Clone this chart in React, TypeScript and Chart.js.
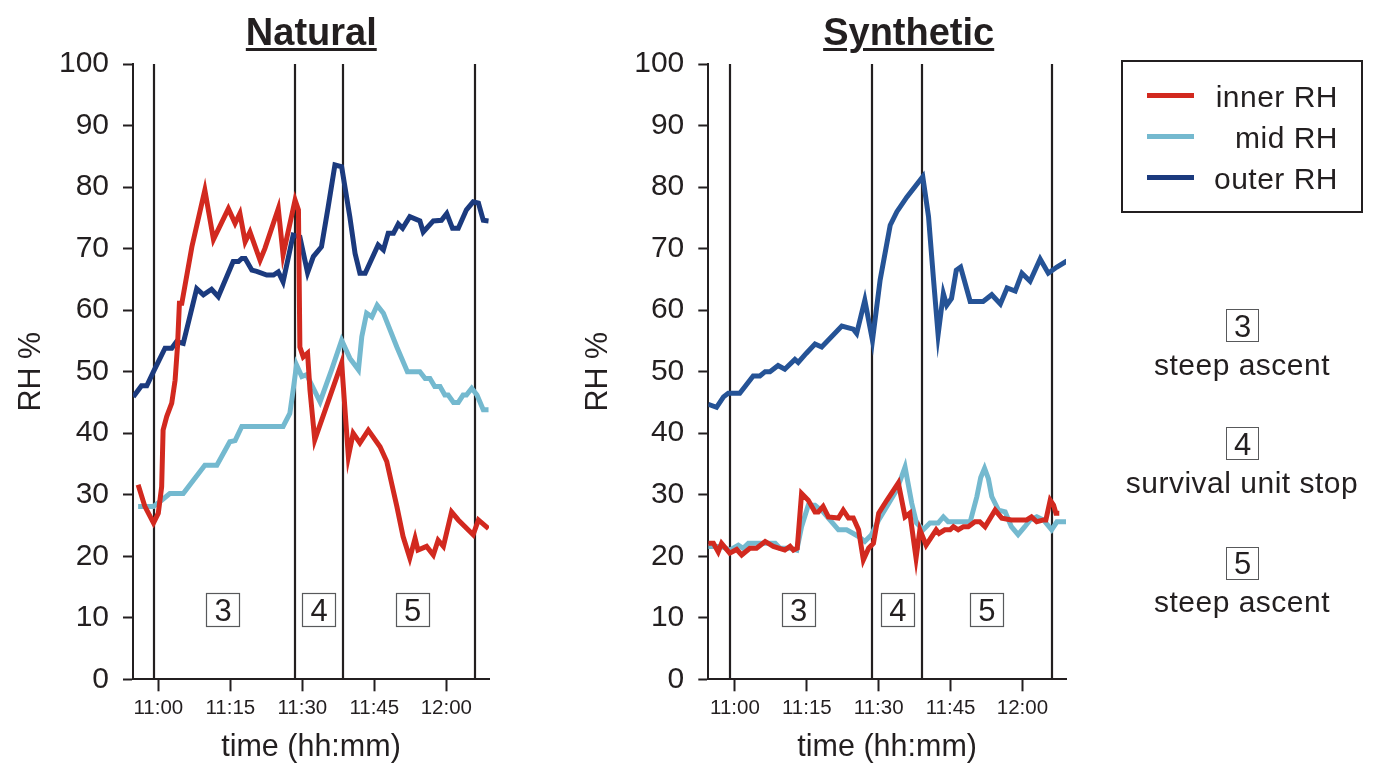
import React, { useEffect, useRef } from "react";
import { Chart, registerables } from "chart.js";

Chart.register(...registerables);

const FONT = "'Liberation Sans', Arial, Helvetica, sans-serif";
const INK = "#231f20";
const RED = "#d2291f";
const LIGHT = "#74b9cf";
const NAVY = "#1b3a7e";
const BLUE = "#255396";

// x axis: minutes after 11:00
const tickMinutes = [0, 15, 30, 45, 60];
const tickLabels = ["11:00", "11:15", "11:30", "11:45", "12:00"];
const seriesNames = ["inner RH", "mid RH", "outer RH"];
const phaseLabels = ["3", "4", "5"];
const phaseDescriptions = ["steep ascent", "survival unit stop", "steep ascent"];
const phaseLabelLevel = 11.3;

// ---- Natural ----
const natBoundaries = [-0.96, 28.5, 38.5, 66.0];
const natPhaseMid = [13.4, 33.4, 52.9];

const natInnerT = [-4.2, -2.8, -1.0, 0.0, 0.7, 1.0, 1.75, 2.8, 3.5, 4.0, 4.4, 4.9, 7.0, 9.7, 11.5, 14.6, 16.0, 17.0, 18.1, 19.1, 21.2, 22.2, 25.0, 26.0, 28.5, 29.2, 29.5, 30.2, 31.1, 31.6, 32.6, 38.2, 39.6, 40.6, 42.0, 43.75, 46.2, 47.6, 48.6, 49.7, 51.0, 52.4, 53.5, 54.1, 55.9, 57.3, 58.3, 59.4, 61.1, 62.5, 65.6, 66.7, 68.8];
const natInnerV = [31.6, 28.1, 25.4, 27.0, 31.3, 40.5, 42.7, 44.9, 48.6, 54.1, 61.1, 61.1, 70.3, 79.5, 71.5, 76.5, 74.1, 75.7, 71.1, 72.7, 68.1, 70.0, 76.5, 69.0, 77.9, 76.3, 54.0, 52.4, 53.0, 47.0, 38.9, 51.4, 36.2, 40.0, 38.4, 40.5, 37.8, 35.4, 31.9, 28.1, 23.2, 19.7, 22.9, 21.0, 21.6, 20.2, 22.6, 21.6, 27.2, 25.9, 23.5, 25.9, 24.5];

const natMidT = [-4.2, -1.0, 0.7, 2.4, 5.2, 9.7, 12.2, 14.9, 16.0, 17.4, 26.0, 27.4, 28.1, 28.8, 29.9, 30.9, 33.7, 36.1, 38.2, 39.9, 41.7, 42.4, 43.4, 44.5, 45.6, 46.9, 49.7, 51.9, 54.5, 55.6, 56.6, 57.6, 58.7, 59.7, 60.4, 61.5, 62.5, 63.5, 64.2, 65.3, 66.4, 67.7, 68.8];
const natMidV = [28.1, 28.1, 29.1, 30.2, 30.2, 34.8, 34.8, 38.6, 38.8, 41.1, 41.1, 43.2, 47.0, 51.1, 49.2, 49.5, 45.1, 50.3, 55.1, 52.2, 50.3, 55.7, 59.5, 58.9, 60.8, 59.5, 54.0, 50.0, 50.0, 48.9, 48.9, 47.6, 47.6, 46.2, 46.2, 45.0, 45.0, 46.2, 46.2, 47.3, 46.2, 43.8, 43.8];

const natOuterT = [-5.2, -3.5, -2.4, -1.0, 1.4, 2.8, 3.8, 5.2, 8.0, 9.4, 11.1, 12.5, 15.6, 16.7, 17.4, 18.1, 19.5, 20.5, 22.6, 24.0, 25.0, 26.0, 28.1, 29.5, 31.1, 32.3, 34.0, 35.4, 36.8, 38.2, 39.9, 41.0, 42.0, 43.1, 45.8, 46.9, 47.9, 49.0, 50.0, 50.9, 52.4, 54.5, 55.2, 57.3, 59.0, 60.1, 61.3, 62.5, 64.2, 65.6, 66.7, 67.7, 68.8];
const natOuterV = [45.9, 47.7, 47.7, 50.0, 53.8, 53.8, 54.9, 54.6, 63.5, 62.5, 63.4, 62.2, 67.9, 67.9, 68.4, 68.4, 66.5, 66.3, 65.7, 65.7, 66.2, 64.6, 72.2, 71.9, 66.1, 68.7, 70.3, 76.8, 83.6, 83.3, 75.2, 69.2, 66.0, 66.0, 70.6, 69.8, 72.5, 72.5, 74.0, 73.3, 75.2, 74.5, 72.7, 74.5, 74.6, 75.7, 73.3, 73.3, 76.3, 77.6, 77.4, 74.6, 74.5];

// ---- Synthetic ----
const synBoundaries = [-1.04, 28.7, 38.97, 66.2];
const synPhaseMid = [13.2, 33.9, 52.5];

const synInnerT = [-5.6, -4.5, -3.5, -2.8, -1.1, 0.35, 1.4, 3.1, 4.5, 6.3, 8.0, 10.4, 11.5, 12.2, 13.0, 13.9, 15.3, 16.7, 17.4, 18.4, 19.5, 21.6, 22.6, 23.7, 24.7, 25.8, 26.8, 27.9, 28.9, 30.0, 31.7, 34.1, 35.5, 36.5, 37.8, 38.6, 39.9, 42.0, 42.6, 43.8, 44.9, 45.6, 46.6, 47.7, 48.7, 50.1, 51.1, 52.2, 54.3, 55.7, 57.7, 60.9, 61.9, 63.0, 64.4, 64.9, 65.8, 66.5, 67.0, 67.7];
const synInnerV = [22.1, 22.1, 20.7, 22.1, 20.5, 21.1, 20.2, 21.3, 21.3, 22.4, 21.6, 21.0, 21.6, 21.0, 21.3, 30.2, 29.1, 27.2, 27.2, 28.1, 26.4, 26.2, 27.5, 26.2, 26.2, 24.3, 19.4, 21.3, 22.1, 27.0, 29.1, 31.9, 26.4, 27.0, 19.7, 24.3, 21.8, 24.3, 23.7, 24.3, 24.3, 24.8, 24.3, 24.8, 24.8, 25.6, 25.6, 24.8, 27.5, 26.2, 25.9, 25.9, 26.4, 25.6, 25.9, 25.9, 29.1, 28.3, 27.0, 27.0];

const synMidT = [-5.6, -2.8, -1.1, 0.7, 1.7, 2.8, 8.4, 9.4, 11.5, 12.9, 13.9, 15.3, 16.7, 18.4, 19.5, 21.6, 23.3, 24.7, 25.8, 27.1, 28.5, 30.0, 31.7, 33.8, 35.5, 36.9, 37.9, 39.3, 40.7, 42.4, 43.5, 44.5, 49.1, 50.5, 51.3, 52.1, 52.9, 53.6, 55.0, 56.4, 57.7, 59.1, 60.5, 61.6, 63.0, 64.4, 66.1, 67.2, 69.3];
const synMidV = [21.6, 21.6, 21.0, 21.8, 21.3, 22.1, 22.1, 21.3, 21.3, 21.0, 24.8, 28.3, 28.3, 27.2, 26.2, 24.3, 24.3, 23.7, 23.2, 22.4, 23.5, 25.9, 28.1, 30.8, 34.5, 28.6, 25.4, 24.3, 25.4, 25.4, 26.4, 25.6, 25.6, 29.7, 32.8, 34.3, 32.6, 29.7, 27.5, 27.2, 24.8, 23.5, 24.8, 25.9, 26.4, 25.9, 24.3, 25.6, 25.6];

const synOuterT = [-5.6, -3.85, -2.4, -1.4, 1.0, 3.8, 5.2, 6.3, 7.3, 9.0, 10.4, 12.5, 13.2, 14.9, 16.7, 18.1, 22.3, 24.7, 25.4, 27.1, 28.7, 30.3, 32.4, 33.8, 35.9, 39.2, 40.4, 41.4, 42.4, 43.5, 44.2, 45.2, 46.2, 47.1, 49.1, 51.8, 53.6, 55.4, 56.8, 58.5, 59.9, 61.6, 63.7, 65.4, 67.2, 69.3];
const synOuterV = [44.7, 44.2, 45.9, 46.5, 46.5, 49.3, 49.3, 50.0, 50.0, 51.0, 50.4, 52.0, 51.5, 53.0, 54.5, 54.0, 57.4, 56.9, 56.2, 61.6, 55.1, 64.9, 73.8, 76.0, 78.4, 81.7, 75.2, 65.4, 56.0, 62.7, 60.8, 61.9, 66.5, 67.0, 61.4, 61.4, 62.5, 61.0, 63.6, 63.1, 66.0, 64.7, 68.3, 66.0, 67.0, 68.0];

const pts = (t: number[], v: number[]) => t.map((x, i) => ({ x, y: v[i] }));

interface PanelProps {
  left: number;
  width: number;
  yWidth: number;
  rightPad: number;
  xMin: number;
  xMax: number;
  boundaries: number[];
  mids: number[];
  inner: { x: number; y: number }[];
  mid: { x: number; y: number }[];
  outer: { x: number; y: number }[];
  outerColor: string;
}

function Panel(p: PanelProps) {
  const ref = useRef<HTMLCanvasElement | null>(null);
  useEffect(() => {
    if (!ref.current) return;
    const phasePlugin = {
      id: "phases",
      beforeDatasetsDraw(chart: any) {
        const { ctx, chartArea, scales } = chart;
        ctx.save();
        ctx.strokeStyle = INK;
        ctx.lineWidth = 2.2;
        p.boundaries.forEach((t) => {
          const x = Math.round(scales.x.getPixelForValue(t));
          ctx.beginPath();
          ctx.moveTo(x, chartArea.top);
          ctx.lineTo(x, chartArea.bottom);
          ctx.stroke();
        });
        ctx.restore();
      },
      afterDatasetsDraw(chart: any) {
        const { ctx, scales } = chart;
        ctx.save();
        const size = 33;
        p.mids.forEach((t, i) => {
          const cx = scales.x.getPixelForValue(t);
          const cy = scales.y.getPixelForValue(phaseLabelLevel);
          ctx.fillStyle = "#ffffff";
          ctx.fillRect(cx - size / 2, cy - size / 2, size, size);
          ctx.strokeStyle = "#58595b";
          ctx.lineWidth = 1.2;
          ctx.strokeRect(Math.round(cx - size / 2) + 0.5, Math.round(cy - size / 2) + 0.5, size, size);
          ctx.fillStyle = INK;
          ctx.font = `31px ${FONT}`;
          ctx.textAlign = "center";
          ctx.textBaseline = "alphabetic";
          ctx.fillText(phaseLabels[i], cx + 0.5, cy + 0.358 * 31);
        });
        ctx.restore();
      },
    };
    const line = (label: string, data: any, color: string) => ({
      label,
      data,
      borderColor: color,
      backgroundColor: color,
      borderWidth: 5,
      pointRadius: 0,
      pointHoverRadius: 0,
      fill: false,
      tension: 0,
    });
    const chart = new Chart(ref.current, {
      type: "line",
      data: {
        datasets: [
          line(seriesNames[0], p.inner, RED),
          line(seriesNames[1], p.mid, LIGHT),
          line(seriesNames[2], p.outer, p.outerColor),
        ],
      },
      options: {
        animation: false,
        responsive: false,
        maintainAspectRatio: false,
        layout: { padding: { top: 64, right: p.rightPad, left: 0, bottom: 0 } },
        plugins: {
          legend: { display: false },
          tooltip: { enabled: false },
          title: { display: false },
        },
        scales: {
          x: {
            type: "linear",
            min: p.xMin,
            max: p.xMax,
            afterBuildTicks: (s: any) => {
              s.ticks = tickMinutes.map((v) => ({ value: v }));
            },
            afterFit: (s: any) => {
              s.height = 764 - 679.3;
            },
            ticks: {
              autoSkip: false,
              maxRotation: 0,
              minRotation: 0,
              padding: 5,
              color: INK,
              font: { family: FONT, size: 20.5 },
              callback: (v: any) => {
                const i = tickMinutes.indexOf(Number(v));
                return i >= 0 ? tickLabels[i] : "";
              },
            },
            grid: {
              drawOnChartArea: false,
              drawTicks: true,
              tickLength: 12,
              tickWidth: 2,
              tickColor: INK,
              color: INK,
            },
            border: { display: true, color: INK, width: 2 },
            title: {
              display: true,
              text: "time (hh:mm)",
              color: INK,
              font: { family: FONT, size: 30.5 },
              padding: { top: 0, bottom: -2 },
            },
          },
          y: {
            min: 0,
            max: 100,
            afterFit: (s: any) => {
              s.width = p.yWidth;
            },
            ticks: {
              stepSize: 10,
              padding: 14,
              color: INK,
              font: { family: FONT, size: 30 },
            },
            grid: {
              drawOnChartArea: false,
              drawTicks: true,
              tickLength: 10,
              tickWidth: 2,
              tickColor: INK,
              color: INK,
            },
            border: { display: true, color: INK, width: 2 },
            title: {
              display: true,
              text: "RH %",
              color: INK,
              font: { family: FONT, size: 30.5 },
              padding: { top: 13, bottom: 0 },
            },
          },
        },
      },
      plugins: [phasePlugin],
    } as any);
    return () => chart.destroy();
  }, []);
  return (
    <canvas
      ref={ref}
      width={p.width}
      height={764}
      style={{ position: "absolute", left: p.left, top: 0, width: p.width, height: 764 }}
    />
  );
}

function Label(props: {
  x: number;
  y: number;
  text: string;
  size: number;
  align?: "left" | "center" | "right";
  bold?: boolean;
  underline?: boolean;
  spacing?: number;
}) {
  const { x, y, text, size, align = "center", bold = false, underline = false, spacing = 0 } = props;
  const w = 600;
  const left = align === "center" ? x - w / 2 : align === "right" ? x - w : x;
  return (
    <div
      style={{
        position: "absolute",
        left,
        top: y - 0.4885 * size,
        width: w,
        height: size,
        lineHeight: `${size}px`,
        fontSize: size,
        fontFamily: FONT,
        fontWeight: bold ? 700 : 400,
        textAlign: align,
        color: INK,
        whiteSpace: "nowrap",
        letterSpacing: spacing,
        textDecoration: underline ? "underline" : "none",
        textDecorationThickness: underline ? "3px" : undefined,
        textUnderlineOffset: underline ? "3px" : undefined,
      }}
    >
      {text}
    </div>
  );
}

const legendColors = [RED, LIGHT, NAVY];
const legendRows = [95.7, 136.7, 177.7];
const noteBoxY = [325.8, 443.7, 563];

export default function App() {
  return (
    <div
      style={{
        position: "absolute",
        left: 0,
        top: 0,
        width: 1377,
        height: 764,
        background: "#ffffff",
        overflow: "hidden",
      }}
    >
      <Panel
        left={0}
        width={520}
        yWidth={133}
        rightPad={31}
        xMin={-5.27}
        xMax={68.9}
        boundaries={natBoundaries}
        mids={natPhaseMid}
        inner={pts(natInnerT, natInnerV)}
        mid={pts(natMidT, natMidV)}
        outer={pts(natOuterT, natOuterV)}
        outerColor={NAVY}
      />
      <Panel
        left={567}
        width={520}
        yWidth={141.3}
        rightPad={21}
        xMin={-5.57}
        xMax={69.1}
        boundaries={synBoundaries}
        mids={synPhaseMid}
        inner={pts(synInnerT, synInnerV)}
        mid={pts(synMidT, synMidV)}
        outer={pts(synOuterT, synOuterV)}
        outerColor={BLUE}
      />
      <Label x={311.3} y={31.7} text="Natural" size={38} bold underline />
      <Label x={908.7} y={31.7} text="Synthetic" size={38} bold underline />

      <div
        style={{
          position: "absolute",
          left: 1121,
          top: 60,
          width: 242,
          height: 153,
          border: `2px solid ${INK}`,
          boxSizing: "border-box",
        }}
      />
      {seriesNames.map((name, i) => (
        <React.Fragment key={name}>
          <div
            style={{
              position: "absolute",
              left: 1147,
              top: legendRows[i] - 2.5,
              width: 47,
              height: 5,
              background: legendColors[i],
            }}
          />
          <Label x={1338} y={legendRows[i] + 1} text={name} size={30} align="right" spacing={0.5} />
        </React.Fragment>
      ))}

      {phaseLabels.map((lab, i) => (
        <React.Fragment key={"note" + i}>
          <div
            style={{
              position: "absolute",
              left: 1242 - 16.5,
              top: noteBoxY[i] - 16.5,
              width: 33,
              height: 33,
              border: "1px solid #58595b",
              boxSizing: "border-box",
            }}
          />
          <Label x={1242.5} y={noteBoxY[i]} text={lab} size={31} />
          <Label x={1242} y={noteBoxY[i] + 39} text={phaseDescriptions[i]} size={30} spacing={0.5} />
        </React.Fragment>
      ))}
    </div>
  );
}
